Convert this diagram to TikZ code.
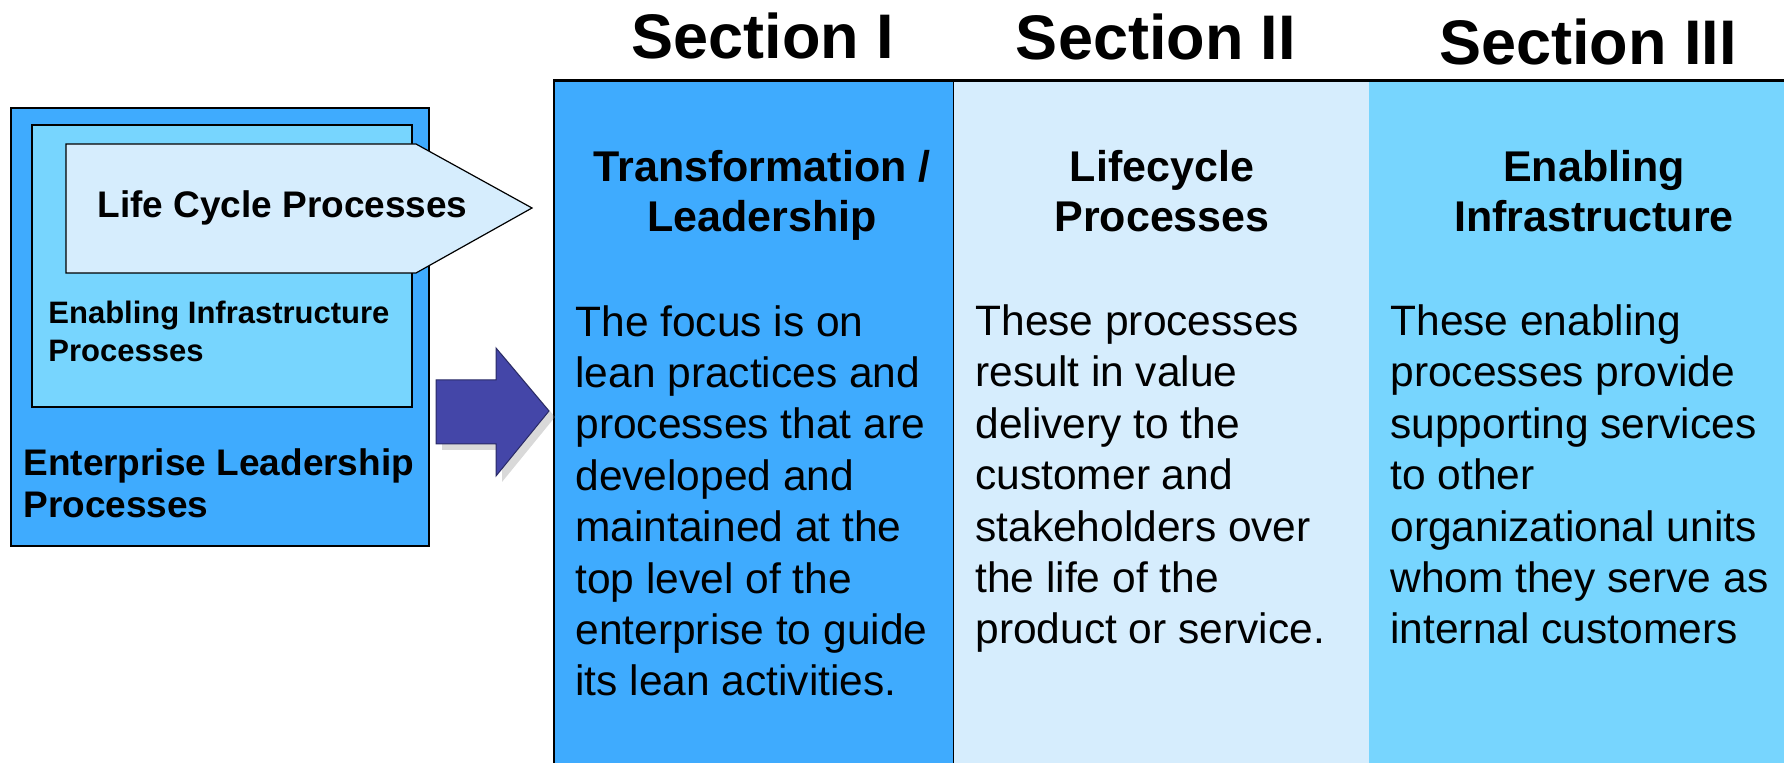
\documentclass[tikz,border=0pt]{standalone}
\usepackage{fontspec}
\setmainfont{Liberation Sans}
\usetikzlibrary{positioning,shadows}

\definecolor{leadblue}{HTML}{3FABFE}
\definecolor{lifeblue}{HTML}{D6EDFD}
\definecolor{infrablue}{HTML}{77D5FE}
\definecolor{arrowblue}{HTML}{4446A8}

\tikzset{
    sectiontitle/.style={anchor=base, inner sep=0pt,
        font=\fontsize{31.5}{36}\selectfont\bfseries},
    colhead/.style={anchor=base, align=center, inner sep=0pt,
        font=\fontsize{21.5}{25}\selectfont\bfseries},
    coltext/.style={anchor=base west, align=left, inner sep=0pt,
        font=\fontsize{21.25}{25.7}\selectfont},
    boxlabel/.style={anchor=base west, align=left, inner sep=0pt,
        font=\fontsize{18.5}{21}\selectfont\bfseries}
}

\begin{document}
\begin{tikzpicture}[x=0.5pt,y=-0.5pt]
    \useasboundingbox (0,0) rectangle (1784,763);

    % the three columns
    \fill[leadblue] (554,81) rectangle (953,763);
    \fill[lifeblue] (953,81) rectangle (1369,763);
    \fill[infrablue] (1369,81) rectangle (1784,763);
    \draw[line width=1pt] (554,763) -- (554,81);
    \draw[line width=1.5pt] (553,81) -- (1784,81);
    \draw[line width=0.5pt] (953,81) -- (953,763);

    % section titles
    \node[sectiontitle] (secI) at (763,59) {Section I};
    \node[sectiontitle] (secII) at (1156,60) {Section II};
    \node[sectiontitle] (secIII) at (1588,65) {Section III};

    % column headings (anchored at the last line)
    \node[colhead] (leadhead) at (762,232) {Transformation /\\Leadership};
    \node[colhead] (lifehead) at (1162,232) {Lifecycle\\Processes};
    \node[colhead] (infrahead) at (1594,232) {Enabling\\Infrastructure};

    % column texts
    \node[coltext] (leadtext) at (575,696) {The focus is on\\lean practices and\\processes that are\\developed and\\maintained at the\\top level of the\\enterprise to guide\\its lean activities.};
    \node[coltext] (lifetext) at (975,644) {These processes\\result in value\\delivery to the\\customer and\\stakeholders over\\the life of the\\product or service.};
    \node[coltext] (infratext) at (1390,644) {These enabling\\processes provide\\supporting services\\to other\\organizational units\\whom they serve as\\internal customers};

    % nested process boxes
    \draw[fill=leadblue, line width=0.8pt] (11,108) rectangle (429,546);
    \draw[fill=infrablue, line width=0.8pt] (32,125) rectangle (412,407);
    \draw[fill=lifeblue, line width=0.6pt]
        (66,144) -- (416,144) -- (532,208) -- (416,273) -- (66,273) -- cycle;
    \node[boxlabel] (lifecycle) at (97,218) {Life Cycle Processes};
    \node[boxlabel, font=\fontsize{15.5}{19}\selectfont\bfseries] (infrabox) at (48,362)
        {Enabling Infrastructure\\Processes};
    \node[boxlabel] (enterprise) at (23,518) {Enterprise Leadership\\Processes};

    % big arrow
    \draw[fill=arrowblue, draw=arrowblue!60!black, line width=0.5pt,
          drop shadow={shadow xshift=3pt, shadow yshift=-3pt, opacity=0.3}]
        (436,380) -- (496,380) -- (496,348) -- (549,411) -- (496,476)
        -- (496,444) -- (436,444) -- cycle;

\end{tikzpicture}
\end{document}
